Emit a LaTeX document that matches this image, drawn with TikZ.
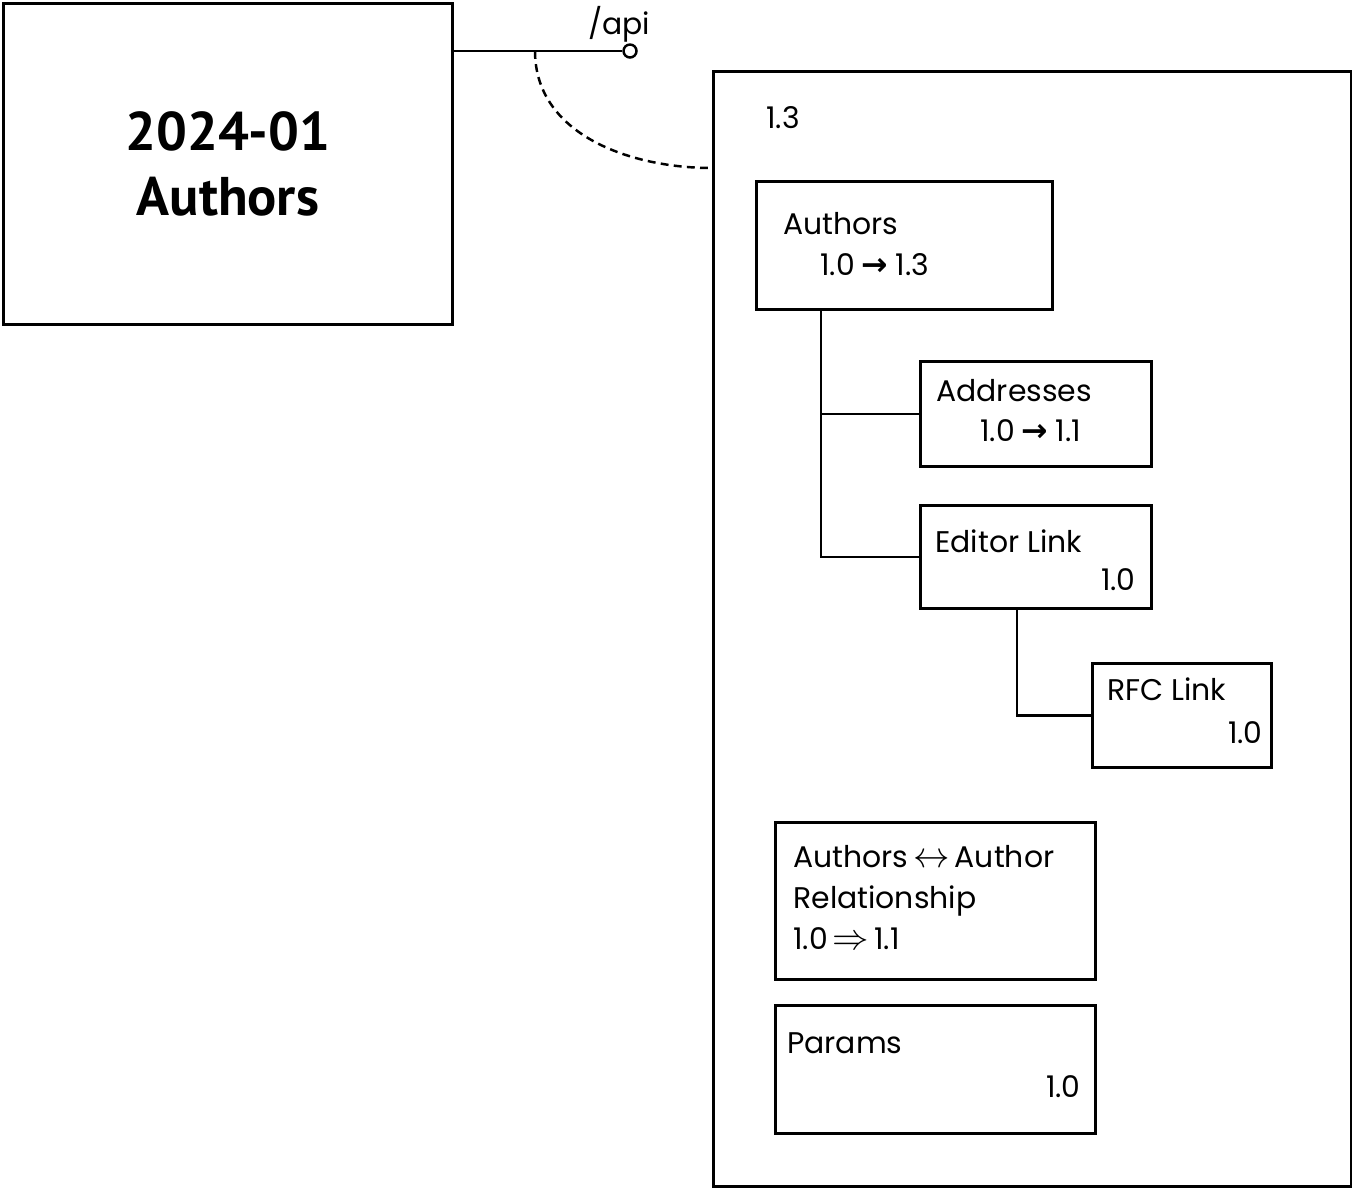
\documentclass[tikz,border=0pt]{standalone}
\usepackage{fontspec}
\setmainfont{Poppins}
\newfontfamily\titlefont{PT Sans}
\newfontfamily\symfont{DejaVu Sans}
\tikzset{box/.style={draw, line width=1.6pt, anchor=north west, inner sep=0pt}}
\tikzset{boxsize/.style 2 args={minimum width=#1*0.02cm, minimum height=#2*0.02cm}}
\tikzset{txt/.style={inner sep=0pt, font=\fontsize{17}{20}\selectfont}}
\tikzset{link/.style={line width=1.4pt}}
\newcommand{\ar}{\hspace{4pt}{\symfont\bfseries\fontsize{18}{18}\selectfont →}\hspace{4pt}}
\newcommand{\mathar}[1]{\smash{\fontsize{20}{20}\selectfont$#1$}}

\begin{document}
\begin{tikzpicture}[x=0.02cm, y=-0.02cm]
            \useasboundingbox (0,0) rectangle (1352,1187);
            % service box and its endpoint
            \node[box, boxsize={449}{321}, align=center,
                  font=\titlefont\bfseries\fontsize{31}{37}\selectfont] (title) at (2,2) {2024-01\\Authors};
            \node[circle, draw, line width=1.4pt, minimum size=0.26cm, inner sep=0pt] (api) at (630,51) {};
            \node[txt, anchor=base] (apitext) at (619,34) {/api};
            \draw[link] (api.west -| title.east) -- (api.west);
            \coordinate (tap) at (535,51);
            \coordinate (mainin) at (712,168);
            \draw[link, dash pattern=on 4.5pt off 3pt] (tap) to[out=-90, in=180] (mainin);
            % version 1.3
            \node[box, boxsize={638}{1115}] (main) at (712,70) {};
            \node[txt, anchor=base west] (version) at (766,128) {1.3};
            \node[box, boxsize={296}{128}] (authors) at (755,180) {};
            \node[txt, anchor=base west] (authorsname) at (783,234) {Authors};
            \node[txt, anchor=base west] (authorsver) at (820,275) {1.0\ar1.3};
            \node[box, boxsize={231}{105}] (addr) at (919,360) {};
            \node[txt, anchor=base west] (addrname) at (936,401) {Addresses};
            \node[txt, anchor=base west] (addrver) at (980,441) {1.0\ar1.1};
            \node[box, boxsize={231}{103}] (edit) at (919,504) {};
            \node[txt, anchor=base west] (editname) at (935,552) {Editor Link};
            \node[txt, anchor=base east] (editver) at (1136,590) {1.0};
            \node[box, boxsize={179}{104}] (rfc) at (1091,662) {};
            \node[txt, anchor=base west] (rfcname) at (1107,700) {RFC Link};
            \node[txt, anchor=base east] (rfcver) at (1263,743) {1.0};
            \draw[link] (authors.south west) ++(66,0) |- (addr.west);
            \draw[link] (authors.south west) ++(66,0) |- (edit.west);
            \draw[link] (edit.south west) ++(98,0) |- (rfc.west);
            \node[box, boxsize={320}{157}] (rel) at (774,821) {};
            \node[txt, anchor=base west, align=left, font=\fontsize{17}{23.2}\selectfont] (relname) at (793,949)
                {Authors\,\mathar{\leftrightarrow}\,Author\\Relationship\\1.0\,\mathar{\Rightarrow}\,1.1};
            \node[box, boxsize={320}{128}] (params) at (774,1004) {};
            \node[txt, anchor=base west] (paramsname) at (787,1053) {Params};
            \node[txt, anchor=base east] (paramsver) at (1081,1097) {1.0};
        \end{tikzpicture}
\end{document}
